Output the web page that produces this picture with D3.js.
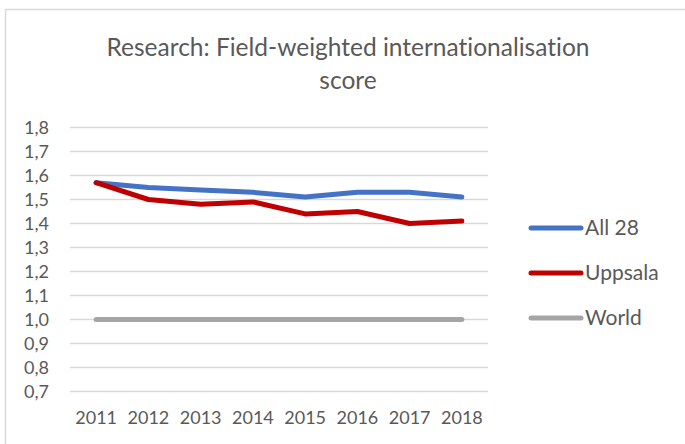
<!DOCTYPE html>
<html><head><meta charset="utf-8">
<script src="https://cdn.jsdelivr.net/npm/d3@7"></script>
<style>body{margin:0;background:#fff;} text{font-family:Lato, "Open Sans", sans-serif; fill:#595959; font-variant-ligatures:none;}</style>
</head><body><svg id="c" width="685" height="444"></svg>
<script>
const years = ["2011","2012","2013","2014","2015","2016","2017","2018"];
const all28 = [1.57,1.55,1.54,1.53,1.51,1.53,1.53,1.51];
const uppsala = [1.57,1.50,1.48,1.49,1.44,1.45,1.40,1.41];
const world = [1.0,1.0,1.0,1.0,1.0,1.0,1.0,1.0];
const seriesNames = ["All 28","Uppsala","World"];
const seriesColors = ["#4472C4","#C00000","#A5A5A5"];
const yTicks = [0.7,0.8,0.9,1.0,1.1,1.2,1.3,1.4,1.5,1.6,1.7,1.8];
const titleLines = ["Research: Field-weighted internationalisation","score"];

const svg = d3.select("#c");
svg.append("rect").attr("x",5.5).attr("y",9.5).attr("width",700).attr("height",500)
  .attr("fill","#fff").attr("stroke","#D9D9D9").attr("stroke-width",1.5);

const x = d3.scaleBand().domain(years).range([70,488]);
const y = d3.scaleLinear().domain([0.7,1.8]).range([391.5,127.5]);

svg.append("g").selectAll("line").data(yTicks).join("line")
  .attr("x1",70).attr("x2",488).attr("y1",d=>y(d)).attr("y2",d=>y(d))
  .attr("stroke","#D9D9D9").attr("stroke-width",1.5);

const fmt = d => d.toFixed(1).replace(".",",");
const yAxis = svg.append("g").attr("transform","translate(70,0)")
  .call(d3.axisLeft(y).tickValues(yTicks).tickFormat(fmt).tickSize(0).tickPadding(21));
yAxis.select(".domain").remove();
yAxis.selectAll("text").style("font-size","18px").attr("fill","#595959").style("font-family","Lato");

const xAxis = svg.append("g").attr("transform","translate(0,400)")
  .call(d3.axisBottom(x).tickSize(0).tickPadding(11));
xAxis.select(".domain").remove();
xAxis.selectAll("text").style("font-size","18px").attr("fill","#595959").style("font-family","Lato");

const data = [all28, uppsala, world];
const line = d3.line().x((d,i)=>x(years[i])+x.bandwidth()/2).y(d=>y(d));
[2,0,1].forEach(k=>{
  svg.append("path").datum(data[k]).attr("d",line).attr("fill","none")
    .attr("stroke",seriesColors[k]).attr("stroke-width",5)
    .attr("stroke-linecap","round").attr("stroke-linejoin","round");
});

const legY = [228,273,318];
seriesNames.forEach((n,i)=>{
  svg.append("line").attr("x1",531).attr("x2",581).attr("y1",legY[i]).attr("y2",legY[i])
    .attr("stroke",seriesColors[i]).attr("stroke-width",5).attr("stroke-linecap","round");
  svg.append("text").attr("x",585).attr("y",legY[i]).attr("dy","0.35em")
    .style("font-size","21px").text(n);
});

svg.selectAll(".title").data(titleLines).join("text").attr("class","title")
  .attr("x",348).attr("y",(d,i)=>47+i*33).attr("dy","0.35em").attr("text-anchor","middle")
  .style("font-size","24.5px").text(d=>d);
</script></body></html>
